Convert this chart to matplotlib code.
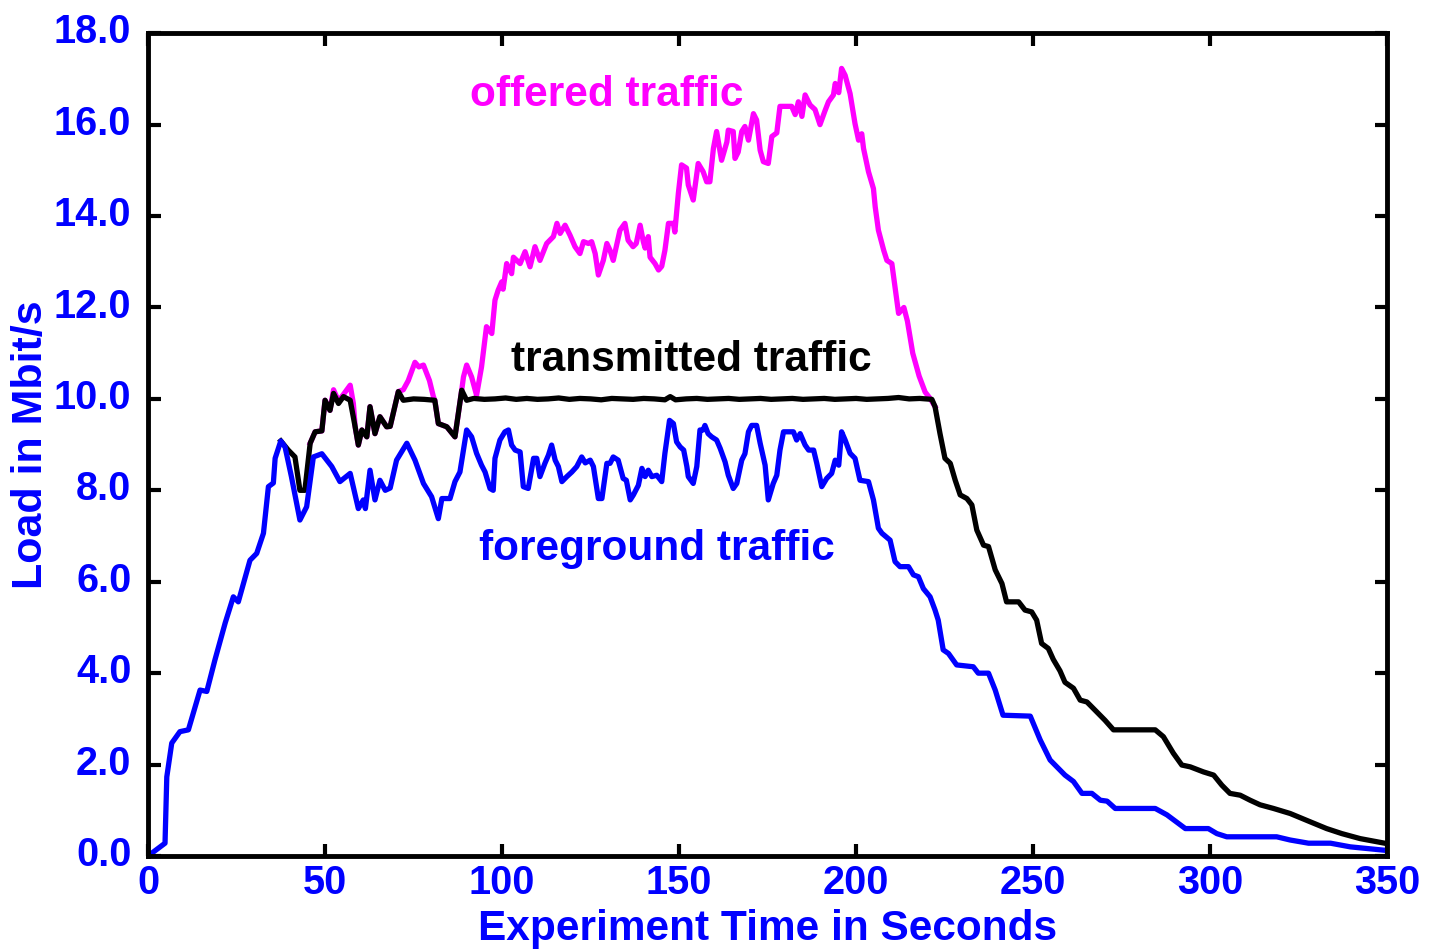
import matplotlib
matplotlib.use("Agg")
import matplotlib.pyplot as plt
import matplotlib.transforms as mtransforms
from matplotlib.ticker import FormatStrFormatter

# (time in s, load in Mbit/s)
foreground = [
    (0, 0.0), (4.8, 0.28), (5.3, 1.73), (6.7, 2.47), (9.0, 2.72), (11.4, 2.76),
    (14.7, 3.63), (16.6, 3.6), (18.9, 4.29), (21.8, 5.1), (24.1, 5.67), (25.5, 5.56),
    (28.8, 6.47), (30.7, 6.62), (32.6, 7.06), (34.0, 8.08), (35.4, 8.16), (35.9, 8.7),
    (37.5, 9.08), (38.7, 8.95), (40.5, 8.3), (42.9, 7.35), (44.8, 7.64), (46.7, 8.73),
    (49.1, 8.8), (51.9, 8.52), (54.2, 8.19), (57.1, 8.37), (59.4, 7.6), (60.8, 7.79),
    (61.4, 7.6), (62.7, 8.44), (64.1, 7.79), (65.5, 8.22), (67.0, 8.0), (68.4, 8.05),
    (70.2, 8.66), (73.1, 9.03), (75.4, 8.66), (77.8, 8.15), (80.1, 7.86), (82.0, 7.38),
    (83.0, 7.82), (85.3, 7.82), (86.7, 8.19), (88.1, 8.4), (90.0, 9.32), (91.4, 9.17),
    (92.8, 8.81), (94.2, 8.55), (95.2, 8.4), (96.6, 8.04), (97.5, 8.0), (98.0, 8.7),
    (99.4, 9.1), (100.8, 9.28), (101.8, 9.32), (102.7, 8.99), (103.7, 8.88), (105.1, 8.84),
    (106.0, 8.08), (107.4, 8.04), (108.9, 8.7), (109.8, 8.7), (110.7, 8.3), (112.1, 8.59),
    (113.1, 8.77), (114.0, 8.99), (115.0, 8.66), (115.9, 8.52), (116.9, 8.19), (118.3, 8.3),
    (119.7, 8.4), (121.1, 8.52), (122.5, 8.73), (123.5, 8.6), (124.9, 8.66), (125.8, 8.52),
    (127.2, 7.82), (128.2, 7.82), (129.6, 8.59), (130.5, 8.59), (131.4, 8.73), (132.8, 8.66),
    (134.2, 8.26), (135.1, 8.22), (136.2, 7.79), (137.1, 7.9), (138.5, 8.11), (139.5, 8.48),
    (140.4, 8.3), (141.3, 8.44), (142.3, 8.3), (143.7, 8.33), (145.1, 8.19), (146.0, 8.81),
    (147.3, 9.53), (148.4, 9.46), (149.3, 9.06), (150.3, 8.95), (151.3, 8.88), (152.2, 8.52),
    (152.6, 8.3), (154.0, 8.15), (155.0, 8.52), (155.9, 9.32), (156.8, 9.32), (157.3, 9.42),
    (158.2, 9.24), (159.2, 9.17), (160.6, 9.1), (161.6, 8.92), (163.0, 8.62), (163.9, 8.33),
    (165.3, 8.04), (166.3, 8.15), (167.7, 8.66), (168.6, 8.8), (169.6, 9.28), (170.5, 9.42),
    (171.9, 9.42), (172.9, 9.03), (174.3, 8.55), (175.2, 7.79), (176.6, 8.15), (177.6, 8.33),
    (178.5, 8.88), (179.5, 9.28), (182.3, 9.28), (183.2, 9.1), (184.2, 9.24), (185.6, 8.99),
    (186.6, 8.88), (188.0, 8.88), (188.9, 8.59), (190.3, 8.08), (191.7, 8.26), (193.1, 8.37),
    (194.1, 8.66), (195.1, 8.55), (195.9, 9.28), (196.9, 9.1), (198.3, 8.81), (199.7, 8.7),
    (201.1, 8.22), (203.5, 8.19), (204.9, 7.79), (206.3, 7.17), (207.3, 7.06), (209.6, 6.91),
    (211.0, 6.44), (212.4, 6.33), (214.8, 6.33), (216.2, 6.15), (217.6, 6.11), (219.0, 5.85),
    (220.9, 5.67), (222.3, 5.38), (223.2, 5.16), (224.6, 4.51), (226.1, 4.43), (228.4, 4.18),
    (233.1, 4.14), (234.5, 4.0), (237.4, 4.0), (239.3, 3.63), (241.5, 3.08), (249.2, 3.06),
    (252.0, 2.54), (254.8, 2.1), (256.7, 1.95), (259.0, 1.77), (261.4, 1.63), (263.8, 1.37),
    (266.6, 1.37), (269.0, 1.22), (270.9, 1.2), (273.2, 1.04), (284.5, 1.04), (287.8, 0.9),
    (291.1, 0.71), (293.0, 0.6), (299.5, 0.6), (301.9, 0.49), (304.7, 0.42), (318.8, 0.42),
    (322.6, 0.35), (327.8, 0.28), (334.0, 0.28), (339.6, 0.2), (350.0, 0.12),
]

transmitted = [
    (37.5, 9.08), (39.6, 8.88), (41.5, 8.73), (42.9, 8.0), (44.3, 8.0), (45.8, 9.03),
    (47.2, 9.28), (49.1, 9.3), (50.0, 9.97), (51.4, 9.75), (52.4, 10.12), (53.8, 9.9),
    (55.2, 10.05), (57.1, 9.97), (58.5, 9.39), (59.4, 8.99), (60.4, 9.32), (61.8, 9.17),
    (62.7, 9.83), (64.1, 9.24), (65.5, 9.61), (67.4, 9.39), (68.4, 9.4), (70.7, 10.16),
    (72.1, 9.97), (75.0, 10.0), (78.0, 9.99), (81.0, 9.97), (82.0, 9.46), (84.4, 9.39),
    (86.7, 9.17), (88.6, 10.19), (90.0, 9.97), (92, 10.01), (95, 9.99), (98, 10.0),
    (101, 10.02), (104, 9.99), (107, 10.01), (110, 9.99), (113, 10.0), (116, 10.02),
    (119, 9.99), (122, 10.01), (125, 10.0), (128, 9.98), (131, 10.01), (134, 10.0),
    (137, 9.99), (140, 10.01), (143, 10.0), (146, 9.98), (147.5, 10.05), (149, 9.98),
    (152, 10.0), (155, 10.01), (158, 9.99), (161, 10.0), (164, 10.01), (167, 9.99),
    (170, 10.0), (173, 10.01), (176, 9.99), (179, 10.0), (182, 10.01), (185, 9.99),
    (188, 10.0), (191, 10.01), (194, 9.99), (197, 10.0), (200, 10.01), (203, 9.99),
    (206, 10.0), (209, 10.01), (212, 10.03), (215, 10.0), (218, 10.01), (221.4, 9.99),
    (222.3, 9.83), (223.7, 9.24), (225.1, 8.7), (226.6, 8.59), (228.0, 8.22), (229.4, 7.9),
    (231.3, 7.82), (232.7, 7.68), (234.1, 7.13), (236.0, 6.8), (237.4, 6.77), (239.3, 6.26),
    (241.2, 5.96), (242.5, 5.56), (245.9, 5.56), (247.7, 5.38), (249.6, 5.34), (251.0, 5.16),
    (252.4, 4.65), (254.3, 4.54), (255.7, 4.3), (257.6, 4.05), (259.0, 3.8), (261.4, 3.67),
    (263.3, 3.41), (265.2, 3.37), (267.5, 3.19), (270.3, 2.97), (272.7, 2.76), (284.5, 2.76),
    (286.8, 2.61), (289.6, 2.25), (292.0, 1.99), (294.4, 1.95), (298.1, 1.84), (301.0, 1.77),
    (303.3, 1.55), (305.6, 1.37), (308.5, 1.33), (311.3, 1.22), (314.1, 1.12), (317.9, 1.04),
    (322.6, 0.93), (328.2, 0.75), (332.9, 0.6), (337.2, 0.49), (342.4, 0.38), (350.0, 0.27),
]

offered = [
    (45.8, 9.03), (47.2, 9.28), (49.1, 9.3), (50.0, 9.97), (51.4, 9.75), (52.4, 10.2),
    (53.8, 9.95), (55.2, 10.1), (57.1, 10.3), (58.0, 9.9), (58.5, 9.39), (59.4, 8.99),
    (60.4, 9.32), (61.8, 9.17), (62.7, 9.83), (64.1, 9.24), (65.5, 9.61), (67.4, 9.39),
    (68.4, 9.4), (70.7, 10.16), (72.1, 10.2), (73.5, 10.4), (75.4, 10.8), (76.5, 10.7),
    (77.8, 10.74), (79.5, 10.4), (80.6, 10.05), (81.0, 9.97), (82.0, 9.46), (84.4, 9.39),
    (86.7, 9.17), (88.6, 10.19), (89.1, 10.48), (90.0, 10.74), (91.4, 10.48), (92.8, 10.08),
    (94.2, 10.7), (95.6, 11.58), (97.1, 11.43), (98.0, 12.16), (98.9, 12.38), (99.9, 12.56),
    (100.3, 12.4), (101.3, 12.96), (102.7, 12.74), (103.2, 13.1), (105.1, 12.96), (106.5, 13.22),
    (107.9, 12.89), (109.3, 13.33), (110.7, 13.03), (112.6, 13.4), (114.5, 13.55), (115.5, 13.84),
    (116.4, 13.62), (117.8, 13.8), (119.2, 13.58), (120.6, 13.33), (122.0, 13.18), (123.0, 13.44),
    (124.4, 13.4), (125.3, 13.44), (126.3, 13.18), (127.2, 12.71), (128.6, 13.03), (129.6, 13.4),
    (130.5, 13.25), (131.4, 13.03), (133.3, 13.69), (134.7, 13.84), (135.6, 13.47), (137.0, 13.33),
    (137.9, 13.4), (139.0, 13.8), (139.9, 13.44), (140.4, 13.3), (141.3, 13.55), (141.8, 13.1),
    (143.2, 12.96), (144.2, 12.82), (145.1, 12.9), (146.0, 13.25), (147.0, 13.84), (148.4, 13.84),
    (148.8, 13.65), (149.8, 14.5), (150.7, 15.12), (152.1, 15.05), (152.6, 14.68), (154.0, 14.35),
    (155.4, 15.15), (156.8, 14.97), (157.8, 14.75), (158.7, 14.75), (159.7, 15.48), (160.6, 15.85),
    (162.0, 15.22), (163.5, 15.62), (163.9, 15.88), (165.3, 15.85), (165.8, 15.26), (166.7, 15.4),
    (167.7, 15.85), (168.6, 15.96), (169.6, 15.66), (171.0, 16.24), (171.9, 16.1), (172.9, 15.44),
    (173.8, 15.19), (175.2, 15.15), (176.2, 15.74), (177.6, 15.82), (178.5, 16.4), (181.8, 16.4),
    (182.8, 16.22), (183.7, 16.5), (184.7, 16.18), (185.6, 16.65), (187.0, 16.43), (188.4, 16.33),
    (189.8, 16.0), (191.2, 16.3), (192.2, 16.5), (193.6, 16.65), (194.1, 16.9), (195.1, 16.7),
    (195.9, 17.23), (196.9, 17.08), (198.3, 16.68), (199.7, 16.02), (200.7, 15.66), (201.6, 15.8),
    (202.1, 15.48), (203.5, 14.97), (204.9, 14.6), (205.4, 14.2), (206.3, 13.69), (207.8, 13.25),
    (208.7, 13.03), (210.1, 12.96), (211.0, 12.45), (212.0, 11.87), (213.5, 12.0), (214.5, 11.7),
    (216.0, 11.0), (217.8, 10.5), (219.5, 10.15), (221.0, 10.0), (222.3, 9.83),
]

labels = ["offered traffic", "transmitted traffic", "foreground traffic"]
label_pos = [(91, 16.65), (102.5, 10.85), (93.5, 6.72)]
colors = ["#ff00ff", "black", "#0000ff"]

plt.rcParams['font.family'] = ['Liberation Sans', 'DejaVu Sans']
plt.rcParams['font.weight'] = 'bold'

fig = plt.figure(figsize=(14.33, 9.49), dpi=100)
ax = fig.add_axes([0.1033, 0.098, 0.8647, 0.867])

for series, col in zip([offered, transmitted, foreground], colors):
    t, v = zip(*series)
    ax.plot(t, v, color=col, lw=3.8, solid_joinstyle='round')

for text, (x, y), col in zip(labels, label_pos, colors):
    ax.text(x, y, text, color=col, fontsize=30.5, fontweight='bold', va='center', ha='left')

ax.set_xlim(0, 350)
ax.set_ylim(0, 18)
ax.set_xticks(range(0, 351, 50))
ax.set_yticks(range(0, 19, 2))
ax.yaxis.set_major_formatter(FormatStrFormatter('%.1f'))

for s in ax.spines.values():
    s.set_linewidth(3.5)
ax.tick_params(direction='in', length=9, width=3, top=True, right=True,
               labelsize=28.5, labelcolor='#0000ff')
ax.tick_params(axis='y', pad=12)
ax.tick_params(axis='x', pad=6)

# y tick labels sit a little above their ticks in the original
shift = mtransforms.ScaledTranslation(0, 3.5 / 72, fig.dpi_scale_trans)
for lab in ax.get_yticklabels():
    lab.set_transform(lab.get_transform() + shift)
for lab in ax.get_xticklabels() + ax.get_yticklabels():
    lab.set_fontweight('bold')

ax.set_xlabel('Experiment Time in Seconds', fontsize=30.5, fontweight='bold',
              color='#0000ff', labelpad=5)
ax.set_ylabel('Load in Mbit/s', fontsize=31, fontweight='bold',
              color='#0000ff', labelpad=2)

fig.savefig('out.png', dpi=100)
